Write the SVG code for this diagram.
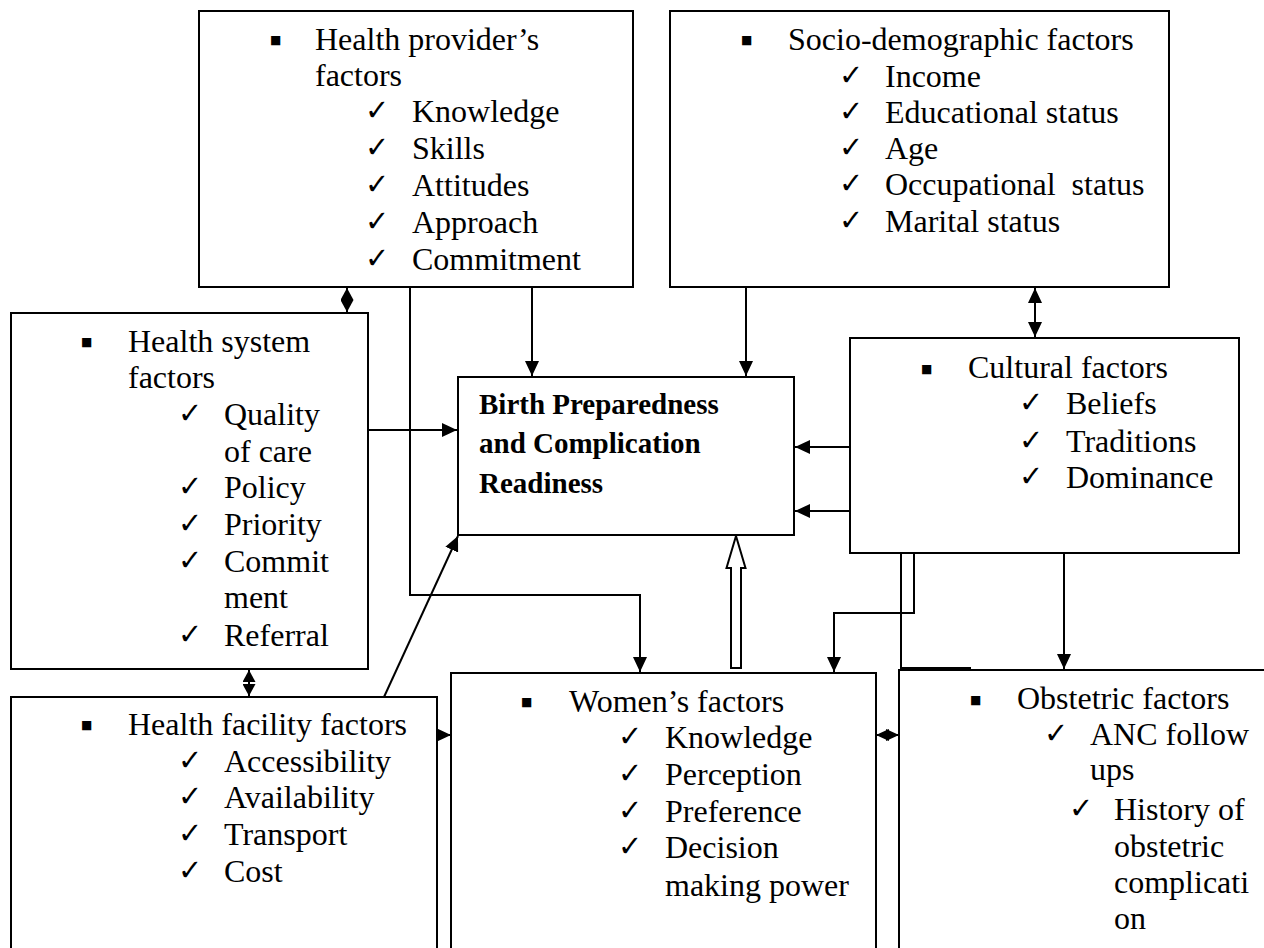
<svg xmlns="http://www.w3.org/2000/svg" width="1264" height="948" viewBox="0 0 1264 948">
<style>
.box{fill:#fff;stroke:#000;stroke-width:2}
.t{font-family:"Liberation Serif","Times New Roman",serif;font-size:32px;fill:#000}
.b{font-family:"Liberation Serif","Times New Roman",serif;font-size:29px;font-weight:bold;fill:#000}
.ck{font-family:"DejaVu Sans",sans-serif;font-size:29px;font-weight:bold;fill:#000}
.bu{font-family:"DejaVu Sans",sans-serif;font-size:12px;fill:#000}
.c{fill:none;stroke:#000;stroke-width:2}
</style>
<defs>
<marker id="ah" markerUnits="userSpaceOnUse" markerWidth="15" markerHeight="14" viewBox="0 0 15 14" refX="15" refY="7" orient="auto-start-reverse"><path d="M0,0 L15,7 L0,14 z" fill="#000"/></marker>
<marker id="sh" markerUnits="userSpaceOnUse" markerWidth="12" markerHeight="13" viewBox="0 0 12 13" refX="12" refY="6.5" orient="auto-start-reverse"><path d="M0,0 L12,6.5 L0,13 z" fill="#000"/></marker>
<marker id="th" markerUnits="userSpaceOnUse" markerWidth="13" markerHeight="12" viewBox="0 0 13 12" refX="13" refY="6" orient="auto-start-reverse"><path d="M0,0 L13,6 L0,12 z" fill="#000"/></marker>
</defs>

<g id="connectors">
<line class="c" x1="347" y1="288" x2="347" y2="312" marker-start="url(#sh)" marker-end="url(#sh)"/>
<path class="c" d="M410,288 V595 H640 V672" marker-end="url(#ah)"/>
<path class="c" d="M532,288 V376" marker-end="url(#ah)"/>
<path class="c" d="M746,288 V376" marker-end="url(#ah)"/>
<path class="c" d="M1035,288 V337" marker-start="url(#ah)" marker-end="url(#ah)"/>
<path class="c" d="M368,430 H457" marker-end="url(#ah)"/>
<path class="c" d="M850,447 H795" marker-end="url(#ah)"/>
<path class="c" d="M971,668 H901 V511 H795" marker-end="url(#ah)"/>
<path class="c" d="M914,553 V613 H834 V672" marker-end="url(#ah)"/>
<path class="c" d="M1064,553 V669" marker-end="url(#ah)"/>
<polygon points="731,668 741,668 741,568 745.5,568 736,536 726.5,568 731,568" fill="#fff" stroke="#000" stroke-width="2"/>
<line class="c" x1="249" y1="670" x2="249" y2="696" marker-start="url(#sh)" marker-end="url(#sh)"/>
<path class="c" d="M384,697 L458,536" marker-end="url(#ah)"/>
<path class="c" d="M437,735 H451" marker-end="url(#ah)"/>
<line class="c" x1="876" y1="735" x2="899" y2="735" marker-start="url(#th)" marker-end="url(#th)"/>
</g>

<g id="provider">
<rect class="box" x="199" y="11" width="434" height="276"/>
<text class="bu" x="270" y="44">■</text>
<text class="t" x="315" y="50">Health provider’s</text>
<text class="t" x="315" y="86">factors</text>
<text class="ck" x="365" y="120">✓</text><text class="t" x="412" y="122">Knowledge</text>
<text class="ck" x="365" y="157">✓</text><text class="t" x="412" y="159">Skills</text>
<text class="ck" x="365" y="194">✓</text><text class="t" x="412" y="196">Attitudes</text>
<text class="ck" x="365" y="231">✓</text><text class="t" x="412" y="233">Approach</text>
<text class="ck" x="365" y="268">✓</text><text class="t" x="412" y="270">Commitment</text>
</g>

<g id="socio">
<rect class="box" x="670" y="11" width="499" height="276"/>
<text class="bu" x="741" y="44">■</text>
<text class="t" x="788" y="50">Socio-demographic factors</text>
<text class="ck" x="839" y="85">✓</text><text class="t" x="885" y="87">Income</text>
<text class="ck" x="839" y="121">✓</text><text class="t" x="885" y="123">Educational status</text>
<text class="ck" x="839" y="157">✓</text><text class="t" x="885" y="159">Age</text>
<text class="ck" x="839" y="193">✓</text><text class="t" x="885" y="195">Occupational&#160; status</text>
<text class="ck" x="839" y="230">✓</text><text class="t" x="885" y="232">Marital status</text>
</g>

<g id="system">
<rect class="box" x="11" y="313" width="357" height="356"/>
<text class="bu" x="81" y="346">■</text>
<text class="t" x="128" y="352">Health system</text>
<text class="t" x="128" y="388">factors</text>
<text class="ck" x="178" y="423">✓</text><text class="t" x="224" y="425">Quality</text>
<text class="t" x="224" y="462">of care</text>
<text class="ck" x="178" y="496">✓</text><text class="t" x="224" y="498">Policy</text>
<text class="ck" x="178" y="533">✓</text><text class="t" x="224" y="535">Priority</text>
<text class="ck" x="178" y="570">✓</text><text class="t" x="224" y="572">Commit</text>
<text class="t" x="224" y="608">ment</text>
<text class="ck" x="178" y="644">✓</text><text class="t" x="224" y="646">Referral</text>
</g>

<g id="bpcr">
<rect class="box" x="458" y="377" width="336" height="158"/>
<text class="b" x="479" y="414">Birth Preparedness</text>
<text class="b" x="479" y="453">and Complication</text>
<text class="b" x="479" y="493">Readiness</text>
</g>

<g id="cultural">
<rect class="box" x="850" y="338" width="389" height="215"/>
<text class="bu" x="921" y="373">■</text>
<text class="t" x="968" y="378">Cultural factors</text>
<text class="ck" x="1019" y="412">✓</text><text class="t" x="1066" y="414">Beliefs</text>
<text class="ck" x="1019" y="450">✓</text><text class="t" x="1066" y="452">Traditions</text>
<text class="ck" x="1019" y="486">✓</text><text class="t" x="1066" y="488">Dominance</text>
</g>

<g id="facility">
<rect class="box" x="11" y="697" width="426" height="270"/>
<text class="bu" x="81" y="729">■</text>
<text class="t" x="128" y="735">Health facility factors</text>
<text class="ck" x="178" y="770">✓</text><text class="t" x="224" y="772">Accessibility</text>
<text class="ck" x="178" y="806">✓</text><text class="t" x="224" y="808">Availability</text>
<text class="ck" x="178" y="843">✓</text><text class="t" x="224" y="845">Transport</text>
<text class="ck" x="178" y="880">✓</text><text class="t" x="224" y="882">Cost</text>
</g>

<g id="women">
<rect class="box" x="451" y="673" width="425" height="290"/>
<text class="bu" x="521" y="706">■</text>
<text class="t" x="569" y="712">Women’s factors</text>
<text class="ck" x="618" y="746">✓</text><text class="t" x="665" y="748">Knowledge</text>
<text class="ck" x="618" y="783">✓</text><text class="t" x="665" y="785">Perception</text>
<text class="ck" x="618" y="820">✓</text><text class="t" x="665" y="822">Preference</text>
<text class="ck" x="618" y="856">✓</text><text class="t" x="665" y="858">Decision</text>
<text class="t" x="665" y="896">making power</text>
</g>

<g id="obstetric">
<rect class="box" x="899" y="670" width="420" height="300"/>
<text class="bu" x="970" y="704">■</text>
<text class="t" x="1017" y="709">Obstetric factors</text>
<text class="ck" x="1044" y="743">✓</text><text class="t" x="1090" y="745">ANC follow</text>
<text class="t" x="1090" y="780">ups</text>
<text class="ck" x="1069" y="818">✓</text><text class="t" x="1114" y="820">History of</text>
<text class="t" x="1114" y="857">obstetric</text>
<text class="t" x="1114" y="893">complicati</text>
<text class="t" x="1114" y="929">on</text>
</g>
</svg>
